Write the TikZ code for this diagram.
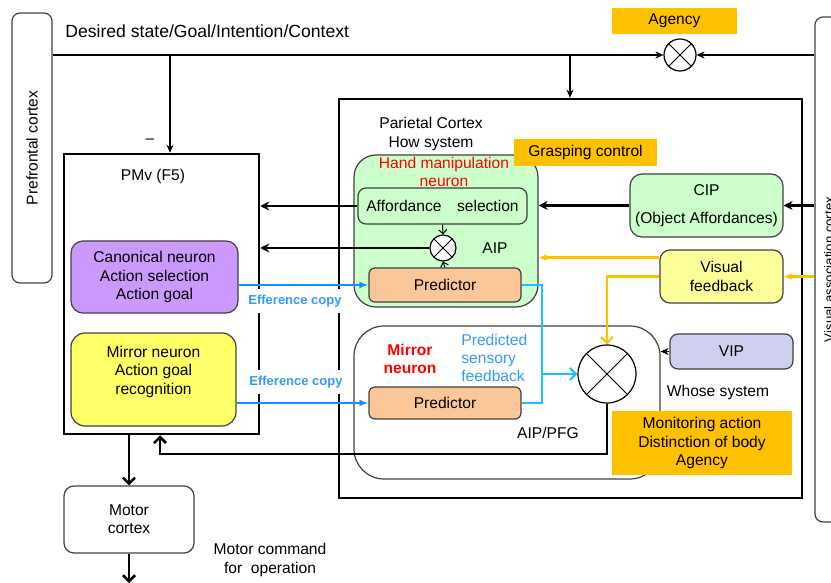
\documentclass[tikz,border=0pt]{standalone}
\usepackage{fontspec}
\setmainfont{Liberation Sans}
\usepackage{tikz}
\usetikzlibrary{arrows.meta,calc}

\definecolor{goldfill}{HTML}{FFC000}
\definecolor{mintfill}{HTML}{CCFFCC}
\definecolor{lilacfill}{HTML}{CC99FF}
\definecolor{lemonfill}{HTML}{FFFF66}
\definecolor{creamfill}{HTML}{FFFF99}
\definecolor{peachfill}{HTML}{FAC898}
\definecolor{lavfill}{HTML}{CFCFF0}
\definecolor{effblue}{HTML}{1A8CFF}
\definecolor{skyline}{HTML}{14C3FF}
\definecolor{labelblue}{HTML}{3399FF}
\definecolor{edgegray}{HTML}{404040}

\newcommand{\bodyfont}{\fontsize{7.8}{9.2}\selectfont}

\tikzset{
	roundbox/.style={draw=edgegray, line width=0.6pt, rounded corners=#1, align=center, inner sep=0pt, font=\bodyfont},
	roundbox/.default=4pt,
	heavybox/.style={draw=black, line width=1.25pt, inner sep=0pt},
	goldbox/.style={fill=goldfill, align=center, inner sep=0pt, font=\bodyfont},
	sumnode/.style={circle, draw=black, line width=0.6pt, fill=white, inner sep=0pt, minimum size=#1,
		path picture={\draw[line width=0.5pt] (path picture bounding box.south west) -- (path picture bounding box.north east)
			(path picture bounding box.north west) -- (path picture bounding box.south east);}},
	txt/.style={font=\bodyfont, align=center, inner sep=0pt},
	thinarrow/.style={line width=0.6pt, -{Stealth[length=4pt,width=3.5pt]}},
	heavyarrow/.style={line width=1.25pt, -{Stealth[length=4.5pt,width=4.5pt]}},
	heavyopen/.style={line width=1.25pt, -{Straight Barb[length=3pt,width=6pt]}},
	efference/.style={effblue, line width=0.9pt, -{Latex[length=4.5pt,width=3.5pt]}},
	skyarrow/.style={skyline, line width=1.1pt},
	goldarrow/.style={goldfill, line width=1.1pt, -{Latex[length=4pt,width=3.5pt]}},
	smallarrow/.style={line width=0.5pt, -{Straight Barb[length=2pt,width=4pt]}},
	efflabel/.style={font=\fontsize{6.5}{7.5}\selectfont\bfseries, text=labelblue, fill=white, inner xsep=1.5pt, inner ysep=3pt}
}

\begin{document}
\begin{tikzpicture}[x=0.5pt, y=-0.5pt]
	\useasboundingbox (0,0) rectangle (831,583);

	% Side regions
	\node[roundbox, rotate=90, minimum width=135pt, minimum height=20pt] (prefrontal) at (32,148) {Prefrontal cortex};
	\node[roundbox, rotate=90, minimum width=252.5pt, minimum height=14pt, font=\fontsize{6.6}{7.6}\selectfont] (visassoc) at (829,269.5) {Visual association cortex};

	% Large regions
	\node[heavybox, minimum width=97.5pt, minimum height=140pt] (pmv) at (161.5,294) {};
	\node[heavybox, minimum width=231.5pt, minimum height=199.5pt] (parietal) at (570.5,298.5) {};

	% AIP
	\node[roundbox=11pt, fill=mintfill, minimum width=92pt, minimum height=76pt] (aip) at (446,231) {};
	\node[roundbox, fill=mintfill, minimum width=84.5pt, minimum height=18pt] (afford) at (442.5,206) {Affordance\quad selection};
	\node[sumnode=13pt] (sumaip) at (443,248) {};
	\node[roundbox=3pt, fill=peachfill, minimum width=76pt, minimum height=17pt] (predA) at (445,285) {Predictor};

	% CIP, visual feedback, VIP
	\node[roundbox=6pt, fill=mintfill, minimum width=76.5pt, minimum height=31.5pt] (cip) at (706.5,205.5) {CIP\\[4.8pt](Object Affordances)};
	\node[roundbox=5pt, fill=creamfill, minimum width=61.5pt, minimum height=26.5pt] (visfb) at (721.5,276.5) {Visual\\feedback};
	\node[roundbox, fill=lavfill, minimum width=61.5pt, minimum height=17.5pt] (vip) at (731.5,351.5) {VIP};

	% Mirror system
	\node[roundbox=15pt, minimum width=153pt, minimum height=76.5pt] (mirbox) at (507,402.5) {};
	\node[roundbox=3pt, fill=peachfill, minimum width=76pt, minimum height=16pt] (predM) at (445,403) {Predictor};
	\node[sumnode=29pt] (sumbig) at (607,374) {};

	% PMv contents
	\node[roundbox=6pt, fill=lilacfill, minimum width=83.5pt, minimum height=36pt] (canon) at (154.5,277) {Canonical neuron\\Action selection\\Action goal};
	\node[roundbox=7pt, fill=lemonfill, minimum width=82.5pt, minimum height=46.5pt] (mirror) at (153.5,379.5) {Mirror neuron\\Action goal\\recognition\\\mbox{}};

	% Motor cortex
	\node[roundbox=5pt, minimum width=65pt, minimum height=33.5pt] (motor) at (129,519.5) {Motor\\cortex};

	% Agency and grasping
	\node[goldbox, minimum width=62.5pt, minimum height=13pt] (agency) at (674.5,21) {Agency};
	\node[sumnode=16pt] (sumtop) at (680,55) {};
	\node[goldbox, minimum width=71.5pt, minimum height=13.5pt] (grasp) at (585.5,152.5) {Grasping control};

	% Goal line and agency comparator
	\draw[thinarrow] (prefrontal.south |- sumtop) -- (sumtop.west);
	\draw[thinarrow] (visassoc.north |- sumtop) -- (sumtop.east);
	\coordinate (goalA) at (170,55);
	\coordinate (goalB) at (570,55);
	\draw[thinarrow] (goalA) -- (goalA |- pmv.north);
	\draw[thinarrow] (goalB) -- (goalB |- parietal.north);

	% Into PMv
	\draw[heavyarrow] (afford.west) -- (afford.west -| pmv.east);
	\draw[heavyarrow] (sumaip.west) -- (sumaip.west -| pmv.east);
	\draw[smallarrow] (afford.south) -- (sumaip.north);
	\draw[smallarrow] (predA.north) -- (sumaip.south);

	% CIP
	\draw[heavyarrow] (cip.west) -- (cip.west -| aip.east);
	\draw[heavyarrow] (visassoc.north |- cip) -- (cip.east);

	% Visual feedback
	\draw[goldarrow] ([yshift=9.5pt]visfb.west) -- ([yshift=9.5pt]visfb.west -| aip.east);
	\draw[goldarrow] (visassoc.north |- visfb) -- (visfb.east);
	\draw[goldarrow, -{Straight Barb[length=3pt,width=6pt]}] (visfb.west) -| (sumbig.north);

	% Efference copies
	\draw[efference] (canon.east |- predA.west) -- (predA.west);
	\draw[efference] (mirror.east |- predM.west) -- (predM.west);

	% Predicted sensory feedback
	\coordinate (skyjoin) at (542,374);
	\draw[skyarrow] (predA.east) -| (skyjoin);
	\draw[skyarrow] (predM.east) -| (skyjoin);
	\draw[skyarrow, -{Straight Barb[length=3pt,width=6pt]}] (skyjoin) -- (sumbig.west);

	% Whose system
	\draw[thinarrow] (vip.west) -- (vip.west -| mirbox.east);

	% Back to PMv and motor output
	\coordinate (backpath) at (160,454);
	\draw[heavyopen] (sumbig.south) |- (backpath) -- (backpath |- pmv.south);
	\draw[heavyopen] (motor.north |- pmv.south) -- (motor.north);
	\coordinate (cmdout) at (129,583);
	\draw[heavyopen] (motor.south) -- (cmdout);

	% Labels
	\node[txt, anchor=west, font=\fontsize{8.8}{10.5}\selectfont] (desired) at (65,31) {Desired state/Goal/Intention/Context};
	\node[txt] (minus) at (150,141) {--};
	\node[txt] (pmvlabel) at (153,176) {PMv (F5)};
	\node[txt] (parlabel) at (431,134) {Parietal Cortex\\How system};
	\node[txt, text=red] (handlabel) at (444,172) {Hand manipulation\\neuron};
	\node[txt] (aiplabel) at (495,248) {AIP};
	\node[efflabel] (effA) at (295,301) {Efference copy};
	\node[efflabel] (effB) at (296,382) {Efference copy};
	\node[txt, text=red, font=\bodyfont\bfseries] (mirlabel) at (410,359) {Mirror\\neuron};
	\node[txt, text=labelblue, anchor=west, align=left] (predlabel) at (461,358) {Predicted\\sensory\\feedback};
	\node[txt] (aippfg) at (548,433) {AIP/PFG};
	\node[txt] (whose) at (718,392) {Whose system};
	\node[txt] (motorcmd) at (270,560) {Motor command\\for\ \ operation};

	% Monitoring box on top
	\node[goldbox, minimum width=90pt, minimum height=32pt] (monitor) at (702,443) {Monitoring action\\Distinction of body\\Agency};
\end{tikzpicture}
\end{document}
